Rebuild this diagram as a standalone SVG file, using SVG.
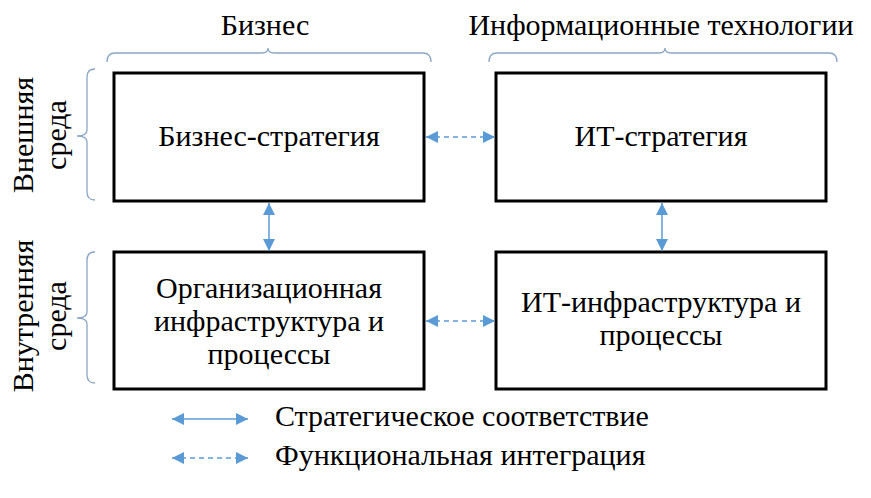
<svg xmlns="http://www.w3.org/2000/svg" width="871" height="498" viewBox="0 0 871 498">
<defs>
<marker id="ah" viewBox="0 0 12 12" refX="12" refY="6" markerWidth="12" markerHeight="12" markerUnits="userSpaceOnUse" orient="auto-start-reverse">
<path d="M0,0 L12,6 L0,12 Z" fill="#5b9bd5"/>
</marker>
</defs>
<rect width="871" height="498" fill="#fff"/>
<g id="brackets" fill="none" stroke="#8aa6c4" stroke-width="1.3">
<path d="M107,62 Q107,53 115,53 L262,53 Q268,53 268,48 Q268,53 274,53 L423,53 Q431,53 431,62"/>
<path d="M489,62 Q489,53 497,53 L659,53 Q665,53 665,48 Q665,53 671,53 L829,53 Q837,53 837,62"/>
<path d="M95,69 Q87,69 87,77 L87,130 Q87,136 77,136 Q87,136 87,142 L87,192 Q87,200 95,200"/>
<path d="M95,252 Q87,252 87,260 L87,312 Q87,318 77,318 Q87,318 87,324 L87,375 Q87,383 95,383"/>
</g>
<g id="labels">
<text x="265" y="35" text-anchor="middle" style="font-family:'Liberation Serif',serif;font-size:30px">Бизнес</text>
<text x="661" y="35" text-anchor="middle" style="font-family:'Liberation Serif',serif;font-size:30px">Информационные технологии</text>
<text transform="translate(33,135) rotate(-90)" text-anchor="middle" style="font-family:'Liberation Serif',serif;font-size:30px">Внешняя</text>
<text transform="translate(66,135) rotate(-90)" text-anchor="middle" style="font-family:'Liberation Serif',serif;font-size:30px">среда</text>
<text transform="translate(33,316) rotate(-90)" text-anchor="middle" style="font-family:'Liberation Serif',serif;font-size:30px">Внутренняя</text>
<text transform="translate(66,316) rotate(-90)" text-anchor="middle" style="font-family:'Liberation Serif',serif;font-size:30px">среда</text>
</g>
<g id="n1"><rect x="114" y="73" width="310" height="128" fill="#fff" stroke="#000" stroke-width="3"/><text x="269" y="146" text-anchor="middle" style="font-family:'Liberation Serif',serif;font-size:30px">Бизнес-стратегия</text></g>
<g id="n2"><rect x="496" y="73" width="330" height="128" fill="#fff" stroke="#000" stroke-width="3"/><text x="661" y="146" text-anchor="middle" style="font-family:'Liberation Serif',serif;font-size:30px">ИТ-стратегия</text></g>
<g id="n3"><rect x="114" y="252" width="310" height="137" fill="#fff" stroke="#000" stroke-width="3"/><text x="269" y="298" text-anchor="middle" style="font-family:'Liberation Serif',serif;font-size:30px">Организационная</text><text x="269" y="331" text-anchor="middle" style="font-family:'Liberation Serif',serif;font-size:30px">инфраструктура и</text><text x="269" y="364" text-anchor="middle" style="font-family:'Liberation Serif',serif;font-size:30px">процессы</text></g>
<g id="n4"><rect x="496" y="252" width="330" height="137" fill="#fff" stroke="#000" stroke-width="3"/><text x="661" y="312" text-anchor="middle" style="font-family:'Liberation Serif',serif;font-size:30px">ИТ-инфраструктура и</text><text x="661" y="345" text-anchor="middle" style="font-family:'Liberation Serif',serif;font-size:30px">процессы</text></g>
<g id="connectors" fill="none" stroke="#5b9bd5" stroke-width="1.5">
<line x1="426" y1="137" x2="495" y2="137" stroke-dasharray="5 4" marker-start="url(#ah)" marker-end="url(#ah)"/>
<line x1="426" y1="321" x2="495" y2="321" stroke-dasharray="5 4" marker-start="url(#ah)" marker-end="url(#ah)"/>
<line x1="269" y1="203" x2="269" y2="251" marker-start="url(#ah)" marker-end="url(#ah)"/>
<line x1="662" y1="203" x2="662" y2="251" marker-start="url(#ah)" marker-end="url(#ah)"/>
</g>
<g id="legend">
<line x1="172" y1="419" x2="248" y2="419" stroke="#5b9bd5" stroke-width="1.5" marker-start="url(#ah)" marker-end="url(#ah)"/>
<line x1="172" y1="458" x2="248" y2="458" stroke="#5b9bd5" stroke-width="1.5" stroke-dasharray="5 4" marker-start="url(#ah)" marker-end="url(#ah)"/>
<text x="275" y="426" style="font-family:'Liberation Serif',serif;font-size:30px">Стратегическое соответствие</text>
<text x="275" y="465" style="font-family:'Liberation Serif',serif;font-size:30px">Функциональная интеграция</text>
</g>
</svg>
